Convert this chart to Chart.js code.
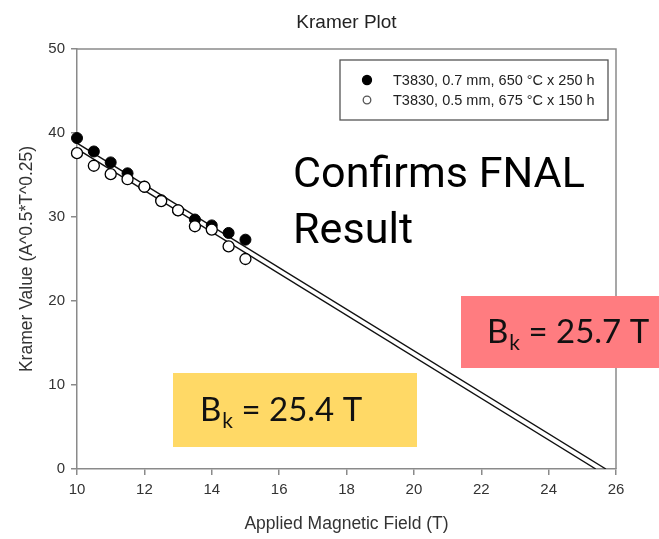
<!DOCTYPE html>
<html>
<head>
<meta charset="utf-8">
<script src="https://cdn.jsdelivr.net/npm/chart.js@4.4.1/dist/chart.umd.min.js"></script>
<style>
html,body{margin:0;padding:0;background:#fff;}
#wrap{position:relative;width:659px;height:539px;}
</style>
</head>
<body>
<div id="wrap"><canvas id="c" width="659" height="539"></canvas></div>
<script>
// ---- data ----
const fieldT = [10, 10.5, 11, 11.5, 12, 12.5, 13, 13.5, 14, 14.5, 15];
const kramer07 = [39.4, 37.8, 36.5, 35.2, 33.6, 32.0, 30.8, 29.7, 29.0, 28.1, 27.3];
const kramer05 = [37.6, 36.1, 35.1, 34.5, 33.6, 31.9, 30.8, 28.9, 28.5, 26.5, 25.0];
const fit07X = [10, 25.7];
const fit07Y = [38.8, 0];
const fit05X = [10, 25.4];
const fit05Y = [38.1, 0];
const seriesLabels = ['T3830, 0.7 mm, 650 °C x 250 h', 'T3830, 0.5 mm, 675 °C x 150 h'];
const xTicks = [10, 12, 14, 16, 18, 20, 22, 24, 26];
const yTicks = [0, 10, 20, 30, 40, 50];
const chartTitle = 'Kramer Plot';
const xTitle = 'Applied Magnetic Field (T)';
const yTitle = 'Kramer Value (A^0.5*T^0.25)';
const noteText = ['Confirms FNAL', 'Result'];
const bk1 = '25.4 T';
const bk2 = '25.7 T';

const pts = (xs, ys) => xs.map((x, i) => ({x: x, y: ys[i]}));
const FONT = '"Liberation Sans", Arial, sans-serif';
const AXC = '#8a8a8a';

const decor = {
  id: 'decor',
  afterDraw(chart) {
    const ctx = chart.ctx;
    const a = chart.chartArea;
    ctx.save();
    // frame top/right
    ctx.strokeStyle = AXC; ctx.lineWidth = 1.5;
    ctx.beginPath();
    ctx.moveTo(a.left, a.top); ctx.lineTo(a.right, a.top); ctx.lineTo(a.right, a.bottom);
    ctx.stroke();
    // title
    ctx.fillStyle = '#222';
    ctx.font = '19px ' + FONT;
    ctx.textAlign = 'center'; ctx.textBaseline = 'middle';
    ctx.fillText(chartTitle, (a.left + a.right) / 2, 23);
    // legend
    ctx.fillStyle = '#fff';
    ctx.fillRect(340, 60, 268, 60);
    ctx.strokeStyle = '#555'; ctx.lineWidth = 1.3;
    ctx.strokeRect(340, 60, 268, 60);
    const ds = chart.data.datasets;
    ctx.font = '14.5px ' + FONT;
    ctx.textAlign = 'left';
    [[0, 80], [1, 100]].forEach(([i, y]) => {
      const d = ds[i];
      ctx.beginPath();
      ctx.arc(367, y, i === 0 ? 4.5 : 3.8, 0, Math.PI * 2);
      ctx.fillStyle = d.backgroundColor; ctx.fill();
      ctx.strokeStyle = i === 0 ? '#000' : '#555'; ctx.lineWidth = 1.3; ctx.stroke();
      ctx.fillStyle = '#222';
      ctx.fillText(d.label, 393, y + 1);
    });
    // big note
    ctx.fillStyle = '#000';
    ctx.textBaseline = 'alphabetic';
    let fs = 46;
    ctx.font = fs + 'px Roboto, sans-serif';
    const w = ctx.measureText(noteText[0]).width;
    fs = fs * 292 / w;
    ctx.font = fs.toFixed(1) + 'px Roboto, sans-serif';
    ctx.fillText(noteText[0], 293, 187);
    ctx.fillText(noteText[1], 293, 243);
    // Bk boxes
    function bk(x0, y0, x1, y1, col, tx, base, val) {
      ctx.fillStyle = col;
      ctx.fillRect(x0, y0, x1 - x0, y1 - y0);
      ctx.fillStyle = '#111';
      ctx.font = '33px Lato, sans-serif';
      ctx.fillText('B', tx, base);
      let x = tx + ctx.measureText('B').width;
      ctx.font = '21px Lato, sans-serif';
      ctx.fillText('k', x + 1, base + 7);
      x += ctx.measureText('k').width + 1;
      ctx.font = '33px Lato, sans-serif';
      ctx.fillText(' = ' + val, x, base);
    }
    bk(173, 373, 417, 447, '#FFD966', 200, 421, bk1);
    bk(461, 296, 659, 368, '#FF7C80', 487, 343, bk2);
    ctx.restore();
  }
};

new Chart(document.getElementById('c'), {
  type: 'scatter',
  data: {
    datasets: [
      {label: seriesLabels[0], data: pts(fieldT, kramer07), backgroundColor: '#000', borderColor: '#000',
       pointRadius: 5.5, pointBorderWidth: 1, order: 2, clip: false},
      {label: seriesLabels[1], data: pts(fieldT, kramer05), backgroundColor: '#fff', borderColor: '#000',
       pointRadius: 5.5, pointBorderWidth: 1.3, order: 1, clip: false},
      {label: 'fit07', type: 'line', data: pts(fit07X, fit07Y), borderColor: '#111', borderWidth: 1.4,
       pointRadius: 0, fill: false, order: 3},
      {label: 'fit05', type: 'line', data: pts(fit05X, fit05Y), borderColor: '#111', borderWidth: 1.4,
       pointRadius: 0, fill: false, order: 3}
    ]
  },
  options: {
    responsive: false,
    animation: false,
    layout: {padding: {top: 49, right: 43, left: 0, bottom: 0}},
    plugins: {legend: {display: false}, title: {display: false}, tooltip: {enabled: false}},
    scales: {
      x: {
        type: 'linear', min: 10, max: 26,
        afterFit(s) { s.height = 70; },
        afterBuildTicks(s) { s.ticks = xTicks.map(v => ({value: v})); },
        ticks: {font: {family: FONT, size: 15}, color: '#333', padding: 6, maxRotation: 0},
        grid: {display: true, drawOnChartArea: false, drawTicks: true, tickLength: 6, color: AXC, lineWidth: 1.5},
        border: {display: true, color: AXC, width: 1.5},
        title: {display: true, text: xTitle, font: {family: FONT, size: 17.5}, color: '#333', padding: {top: 0, bottom: 4}}
      },
      y: {
        type: 'linear', min: 0, max: 50,
        afterFit(s) { s.width = 77; },
        afterBuildTicks(s) { s.ticks = yTicks.map(v => ({value: v})); },
        ticks: {font: {family: FONT, size: 15}, color: '#333', padding: 6},
        grid: {display: true, drawOnChartArea: false, drawTicks: true, tickLength: 6, color: AXC, lineWidth: 1.5},
        border: {display: true, color: AXC, width: 1.5},
        title: {display: true, text: yTitle, font: {family: FONT, size: 17.5}, color: '#333', padding: {top: 17, bottom: 0}}
      }
    }
  },
  plugins: [decor]
});
</script>
</body>
</html>
